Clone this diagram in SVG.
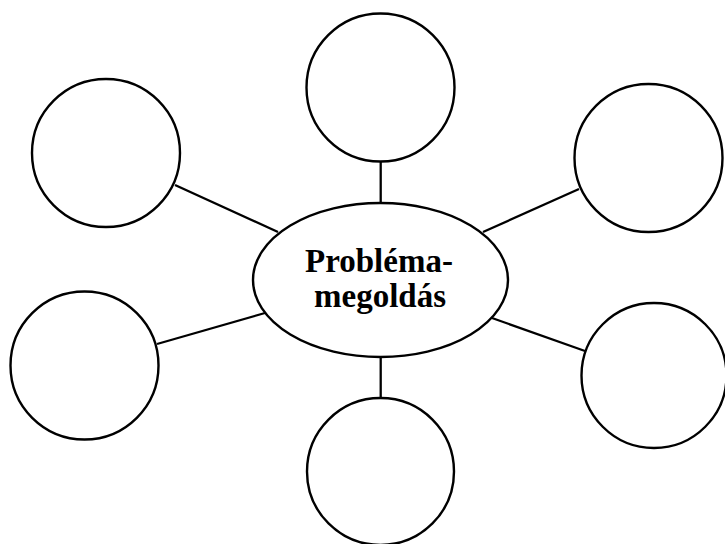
<svg xmlns="http://www.w3.org/2000/svg" width="725" height="544" viewBox="0 0 725 544">
  <style>
    .node { fill: #ffffff; stroke: #000000; stroke-width: 2.4; }
    .link { stroke: #000000; stroke-width: 2.3; fill: none; }
    .label { font-family: "Liberation Serif", "Times New Roman", serif; font-weight: bold; font-size: 33px; fill: #000000; text-anchor: middle; }
  </style>
  <rect x="0" y="0" width="725" height="544" fill="#ffffff"/>

  <!-- spokes from the hub to each satellite -->
  <g id="connectors">
    <line class="link" x1="380.7" y1="161" x2="380.7" y2="204"/>
    <line class="link" x1="175" y1="185" x2="278" y2="232"/>
    <line class="link" x1="579" y1="189" x2="483" y2="232"/>
    <line class="link" x1="157" y1="344" x2="265" y2="313"/>
    <line class="link" x1="585" y1="351" x2="492" y2="318"/>
    <line class="link" x1="380.7" y1="356" x2="380.7" y2="398"/>
  </g>

  <g id="hub">
    <ellipse class="node" cx="380.5" cy="280" rx="127.5" ry="77"/>
    <text class="label" x="379" y="272">Probléma-</text>
    <text class="label" x="380" y="307">megoldás</text>
  </g>

  <g id="top"><circle class="node" cx="380.5" cy="87.5" r="74"/></g>
  <g id="top-left"><circle class="node" cx="106" cy="153" r="74"/></g>
  <g id="top-right"><circle class="node" cx="648.5" cy="158" r="74"/></g>
  <g id="left"><circle class="node" cx="84.5" cy="365.5" r="74"/></g>
  <g id="right"><circle class="node" cx="654" cy="375.5" r="72.5"/></g>
  <g id="bottom"><circle class="node" cx="380.5" cy="471.5" r="73.5"/></g>
</svg>
